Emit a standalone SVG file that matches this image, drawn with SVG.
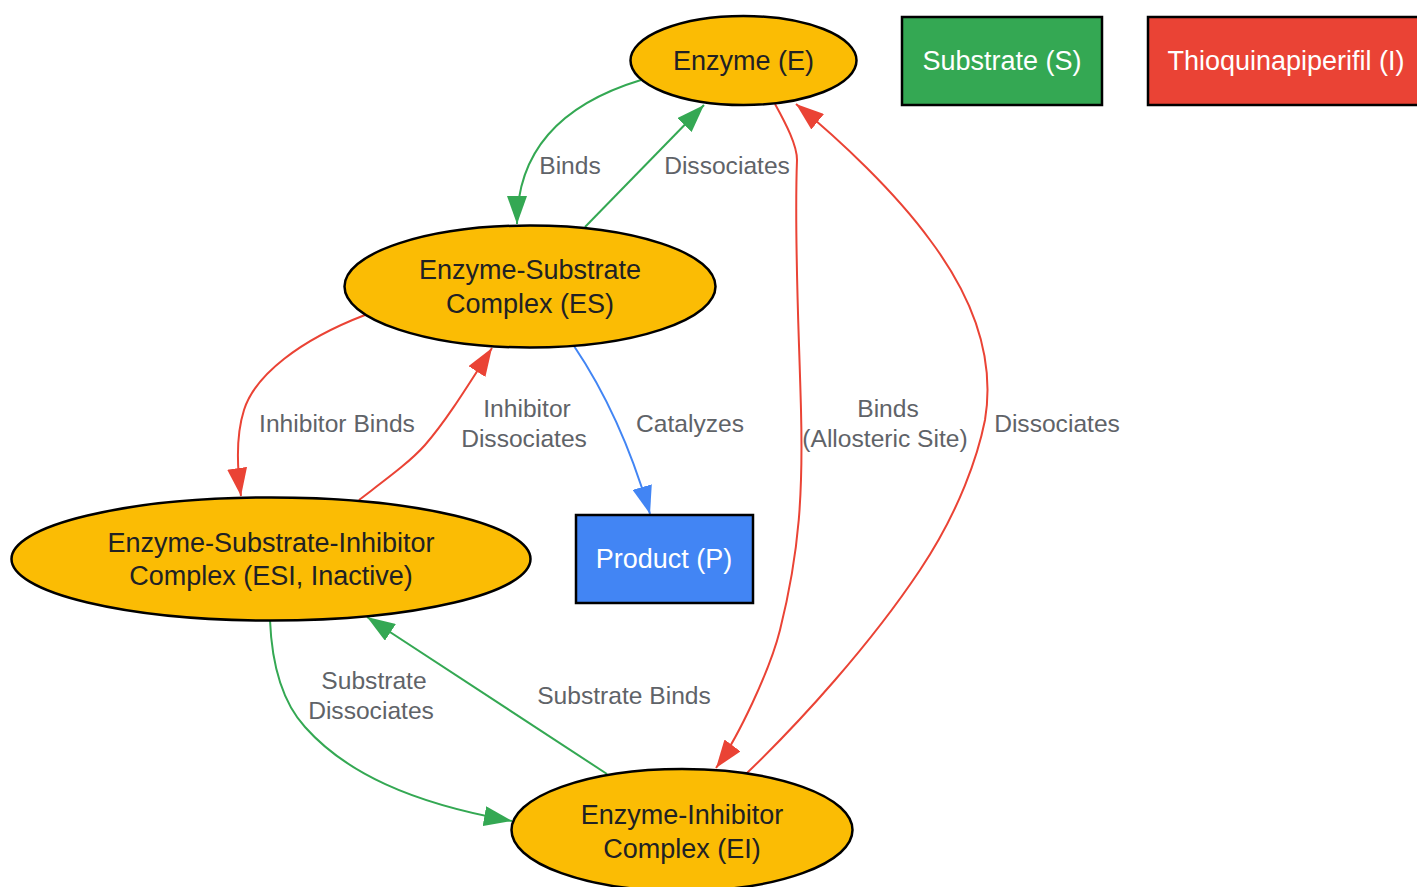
<svg xmlns="http://www.w3.org/2000/svg" width="1417" height="887" viewBox="0 0 1417 887">
<style>
.n{fill:#fbbc04;stroke:#000;stroke-width:2.5}
.r{stroke:#000;stroke-width:2.5}
.t{font-family:"Liberation Sans",Arial,sans-serif;font-size:27px;text-anchor:middle;fill:#202124}
.w{font-family:"Liberation Sans",Arial,sans-serif;font-size:27px;text-anchor:middle;fill:#ffffff}
.l{font-family:"Liberation Sans",Arial,sans-serif;font-size:24.6px;text-anchor:middle;fill:#5f6368}
.e{fill:none;stroke-width:2}
.g{stroke:#34a853}.rd{stroke:#ea4335}.b{stroke:#4285f4}
</style>
<defs>
<marker id="ag" markerUnits="userSpaceOnUse" markerWidth="28" markerHeight="20" refX="28" refY="10" orient="auto"><path d="M0,0 L28,10 L0,20 z" fill="#34a853"/></marker>
<marker id="ar" markerUnits="userSpaceOnUse" markerWidth="28" markerHeight="20" refX="28" refY="10" orient="auto"><path d="M0,0 L28,10 L0,20 z" fill="#ea4335"/></marker>
<marker id="ab" markerUnits="userSpaceOnUse" markerWidth="28" markerHeight="20" refX="28" refY="10" orient="auto"><path d="M0,0 L28,10 L0,20 z" fill="#4285f4"/></marker>
</defs>
<rect width="1417" height="887" fill="#ffffff"/>
<g id="connectors">
<path class="e g" d="M641,80 C575,100 517,140 517,224" marker-end="url(#ag)"/>
<path class="e g" d="M585,227 L704,105" marker-end="url(#ag)"/>
<path class="e rd" d="M775,104 C786,124 797,145 797,160 C794,240 799,330 801,410 C803,490 800,550 780,630 C770,670 738,738 716,768" marker-end="url(#ar)"/>
<path class="e rd" d="M747,773 C800,722 870,645 920,570 C960,510 978,455 985,420 C995,360 975,300 930,240 C895,192 840,140 796,104" marker-end="url(#ar)"/>
<path class="e rd" d="M365,315 C300,340 255,375 244,410 C237,432 236,460 241,496" marker-end="url(#ar)"/>
<path class="e rd" d="M359,500 C385,480 410,462 425,445 C445,422 462,395 492,348" marker-end="url(#ar)"/>
<path class="e b" d="M574,346 C605,392 630,445 650,514" marker-end="url(#ab)"/>
<path class="e g" d="M607,774 L367,617" marker-end="url(#ag)"/>
<path class="e g" d="M270,620 C272,670 285,705 305,727 C345,772 410,803 512,821" marker-end="url(#ag)"/>
<text class="l" x="570" y="174">Binds</text>
<text class="l" x="727" y="174">Dissociates</text>
<text class="l" x="337" y="432">Inhibitor Binds</text>
<text class="l" x="527" y="417">Inhibitor</text>
<text class="l" x="524" y="447">Dissociates</text>
<text class="l" x="690" y="432">Catalyzes</text>
<text class="l" x="888" y="417">Binds</text>
<text class="l" x="885" y="447">(Allosteric Site)</text>
<text class="l" x="1057" y="432">Dissociates</text>
<text class="l" x="374" y="689">Substrate</text>
<text class="l" x="371" y="719">Dissociates</text>
<text class="l" x="624" y="704">Substrate Binds</text>
</g>
<g id="E">
<ellipse class="n" cx="743.5" cy="60.5" rx="113" ry="44.5"/>
<text class="t" x="743.5" y="70">Enzyme (E)</text>
</g>
<g id="S">
<rect class="r" x="902" y="17" width="200" height="88" fill="#34a853"/>
<text class="w" x="1002" y="70">Substrate (S)</text>
</g>
<g id="I">
<rect class="r" x="1148" y="17" width="278" height="88" fill="#ea4335"/>
<text class="w" x="1286" y="70">Thioquinapiperifil (I)</text>
</g>
<g id="ES">
<ellipse class="n" cx="530" cy="286.5" rx="185.5" ry="61"/>
<text class="t" x="530" y="279">Enzyme-Substrate</text>
<text class="t" x="530" y="313">Complex (ES)</text>
</g>
<g id="ESI">
<ellipse class="n" cx="271" cy="559" rx="259.5" ry="61.5"/>
<text class="t" x="271" y="552">Enzyme-Substrate-Inhibitor</text>
<text class="t" x="271" y="585">Complex (ESI, Inactive)</text>
</g>
<g id="P">
<rect class="r" x="576" y="515" width="177" height="88" fill="#4285f4"/>
<text class="w" x="664" y="568">Product (P)</text>
</g>
<g id="EI">
<ellipse class="n" cx="682" cy="830" rx="170.5" ry="61"/>
<text class="t" x="682" y="824">Enzyme-Inhibitor</text>
<text class="t" x="682" y="858">Complex (EI)</text>
</g>
</svg>
